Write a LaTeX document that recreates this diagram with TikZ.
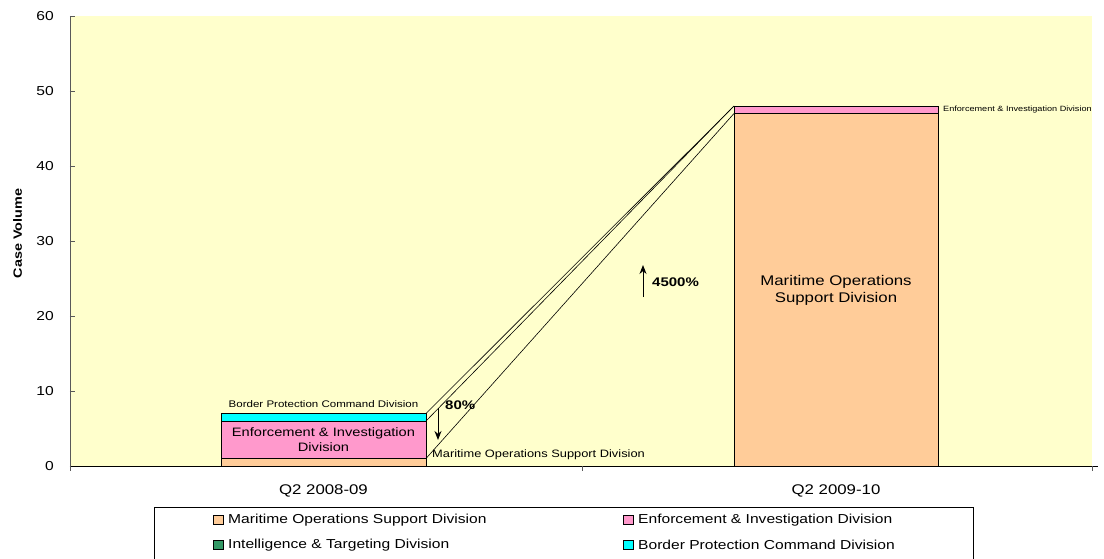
\documentclass[tikz,border=0pt]{standalone}
\usepackage{fontspec}
\setmainfont[FakeStretch=1.2]{Liberation Sans}
\usetikzlibrary{positioning,arrows.meta}
\definecolor{plotbg}{HTML}{FFFFCC}
\definecolor{maritime}{HTML}{FFCC99}
\definecolor{enforce}{HTML}{FF99CC}
\definecolor{intel}{HTML}{339966}
\definecolor{bordercmd}{HTML}{00FFFF}
\tikzset{
	seg/.style={draw=black,line width=0.9pt},
	ticklbl/.style={font=\fontsize{13}{13}\selectfont,inner sep=2pt},
	barlbl/.style={font=\fontsize{12.2}{15.5}\selectfont,align=center,inner sep=0pt},
	smalllbl/.style={inner sep=1pt},
	pctlbl/.style={font=\fontsize{12.5}{12.5}\selectfont\bfseries,inner sep=0pt,anchor=west},
	legmark/.style={draw=black,line width=0.5pt,minimum size=9.5pt,inner sep=0pt},
	legtext/.style={font=\fontsize{13}{13}\selectfont,anchor=west,inner sep=0pt},
}
\begin{document}
\begin{tikzpicture}[>={Stealth[length=9pt,width=7pt]},x=1pt,y=7.5pt]
		\useasboundingbox (-70,-12.4) rectangle (1034,62.133);
		% plot area
		\fill[plotbg] (0,0) rectangle (1022,60);
		\draw[gray!70!black] (0,60) -- (0,0);
		\foreach \v in {0,10,...,60}
			{\draw[gray!70!black] (0,\v) -- (5,\v);
			 \node[ticklbl,anchor=east] at (-14,\v) {\v};}
		\draw[black,line width=0.8pt] (0,0) -- (1028,0);
		\foreach \t in {0,512,1022}
			\draw[gray!70!black] (\t,0) -- (\t,-0.7);
		\node[font=\fontsize{12}{12}\selectfont\bfseries,rotate=90] (ylab) at (-52.5,31) {Case Volume};
		% bars
		\draw[seg,fill=maritime] (151,0) rectangle (356,1);
		\draw[seg,fill=enforce] (151,1) rectangle (356,6);
		\draw[seg,fill=bordercmd] (151,6) rectangle (356,7);
		\draw[seg,fill=maritime] (664,0) rectangle (868,47);
		\draw[seg,fill=enforce] (664,47) rectangle (868,48);
		% series lines
		\coordinate (la) at (356,1);
		\coordinate (lb) at (356,6);
		\coordinate (lc) at (356,7);
		\coordinate (ra) at (664,47);
		\coordinate (rb) at (664,48);
		\draw[line width=0.6pt] (la) -- (ra);
		\draw[line width=0.6pt] (lb) -- (rb);
		\draw[line width=0.6pt] (lc) -- (rb);
		% labels
		\node[smalllbl,font=\fontsize{9.6}{9.6}\selectfont] (bpcd) at (253.5,8.27) {Border Protection Command Division};
		\node[barlbl] (eid) at (253.5,3.5) {Enforcement \& Investigation\\Division};
		\node[smalllbl,font=\fontsize{10.7}{10.7}\selectfont,anchor=west] (mosd) at (361,1.47) {Maritime Operations Support Division};
		\node[barlbl,font=\fontsize{14}{17}\selectfont] (mosdr) at (766,23.47) {Maritime Operations\\Support Division};
		\node[smalllbl,font=\fontsize{7.6}{7.6}\selectfont,anchor=west] (eidr) at (872,47.5) {Enforcement \& Investigation Division};
		% change arrows
		\coordinate (dtop) at (368,7.73);
		\coordinate (dbot) at (368,3.47);
		\draw[->,line width=1pt] (dtop) -- (dbot);
		\node[pctlbl] (down) at (375,8.13) {80\%};
		\coordinate (ubot) at (573,22.53);
		\coordinate (utop) at (573,26.8);
		\draw[->,line width=1pt] (ubot) -- (utop);
		\node[pctlbl] (up) at (582,24.53) {4500\%};
		% categories
		\node[ticklbl,font=\fontsize{14}{14}\selectfont] (q1) at (253.5,-3.33) {Q2 2008-09};
		\node[ticklbl,font=\fontsize{14}{14}\selectfont] (q2) at (766,-3.33) {Q2 2009-10};
		% legend
		\draw[black,line width=0.8pt,fill=white] (84,-5.47) rectangle (903,-12.6);
		\node[legmark,fill=maritime] (m1) at (148,-7.2) {};
		\node[legtext,right=5pt of m1] {Maritime Operations Support Division};
		\node[legmark,fill=enforce] (m2) at (558,-7.2) {};
		\node[legtext,right=5pt of m2] {Enforcement \& Investigation Division};
		\node[legmark,fill=intel] (m3) at (148,-10.53) {};
		\node[legtext,right=5pt of m3] {Intelligence \& Targeting Division};
		\node[legmark,fill=bordercmd] (m4) at (558,-10.53) {};
		\node[legtext,right=5pt of m4] {Border Protection Command Division};
		\end{tikzpicture}
\end{document}
